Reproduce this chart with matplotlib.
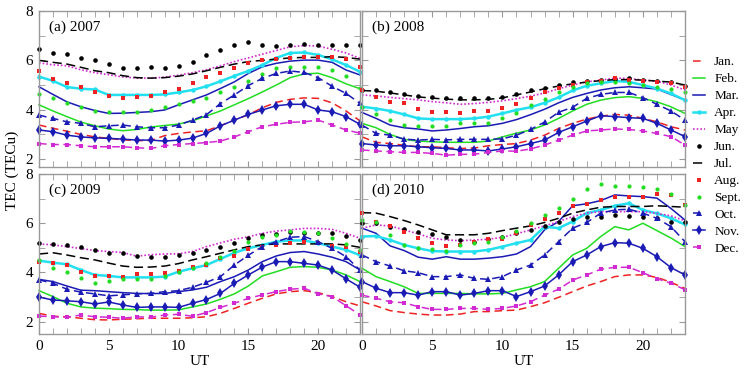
import matplotlib
matplotlib.use("Agg")
import matplotlib.pyplot as plt
from matplotlib.ticker import MultipleLocator

plt.rcParams['font.family'] = ['Liberation Serif', 'DejaVu Serif']

hours = list(range(24))
months = ['Jan.', 'Feb.', 'Mar.', 'Apr.', 'May', 'Jun.', 'Jul.', 'Aug.', 'Sept.', 'Oct.', 'Nov.', 'Dec.']
panel_titles = ['(a) 2007', '(b) 2008', '(c) 2009', '(d) 2010']

tec_2007 = {
    'Jan.': [3.38,3.25,3.13,3.0,2.9,2.84,2.78,2.75,2.75,2.95,3.04,3.1,3.15,3.35,3.58,3.8,4.08,4.3,4.42,4.48,4.46,4.28,3.95,3.55],
    'Feb.': [4.2,3.95,3.72,3.5,3.35,3.22,3.15,3.2,3.3,3.36,3.42,3.55,3.75,3.95,4.2,4.45,4.72,5.0,5.3,5.45,5.48,5.3,5.05,4.85],
    'Mar.': [4.93,4.62,4.32,4.12,3.97,3.85,3.86,3.89,3.92,3.99,4.2,4.4,4.6,4.86,5.13,5.47,5.74,5.88,5.97,6.01,6.01,5.92,5.61,5.41],
    'Apr.': [5.34,5.17,4.92,4.85,4.82,4.6,4.6,4.6,4.6,4.62,4.7,4.8,4.95,5.15,5.37,5.57,5.81,6.1,6.3,6.32,6.22,6.04,5.81,5.54],
    'May':  [5.9,5.82,5.78,5.62,5.5,5.42,5.33,5.28,5.28,5.32,5.4,5.5,5.62,5.78,5.95,6.1,6.25,6.4,6.55,6.6,6.58,6.45,6.3,6.08],
    'Jun.': [6.45,6.3,6.25,6.1,6.02,5.85,5.7,5.7,5.72,5.68,5.78,5.92,6.2,6.4,6.62,6.75,6.62,6.6,6.62,6.68,6.62,6.62,6.62,6.62],
    'Jul.': [6.0,5.92,5.85,5.72,5.58,5.5,5.38,5.3,5.28,5.3,5.36,5.45,5.58,5.72,5.85,5.95,6.0,6.05,6.1,6.12,6.12,6.15,6.12,6.05],
    'Aug.': [5.57,5.25,5.07,4.91,4.71,4.57,4.46,4.5,4.55,4.7,4.83,5.1,5.31,5.5,5.68,5.88,6.0,6.04,6.1,6.15,6.12,6.12,6.05,5.75],
    'Sept.': [4.62,4.49,4.26,4.12,3.95,3.92,3.92,3.92,4.0,4.1,4.25,4.35,4.49,4.7,4.93,5.16,5.45,5.68,5.74,5.74,5.74,5.61,5.38,4.9],
    'Oct.': [3.78,3.65,3.51,3.45,3.31,3.35,3.38,3.31,3.27,3.27,3.38,3.58,3.8,4.25,4.6,4.98,5.27,5.47,5.57,5.51,5.3,4.95,4.66,4.26],
    'Nov.': [3.18,3.11,2.97,2.9,2.86,2.84,2.81,2.77,2.77,2.73,2.77,2.85,3.04,3.35,3.58,3.81,3.99,4.16,4.22,4.22,3.99,3.92,3.72,3.41],
    'Dec.': [2.63,2.59,2.59,2.54,2.5,2.5,2.5,2.46,2.43,2.54,2.59,2.63,2.67,2.73,2.9,3.11,3.31,3.41,3.49,3.51,3.58,3.38,3.18,3.05],
}

tec_2008 = {
    'Jan.': [2.9,2.68,2.63,2.56,2.5,2.5,2.46,2.43,2.45,2.54,2.59,2.63,2.77,2.97,3.24,3.45,3.62,3.74,3.81,3.78,3.65,3.51,3.31,3.18],
    'Feb.': [3.45,3.27,3.0,2.8,2.73,2.7,2.68,2.68,2.68,2.73,2.9,3.05,3.18,3.38,3.65,3.95,4.22,4.39,4.49,4.53,4.46,4.32,4.12,3.85],
    'Mar.': [3.89,3.65,3.38,3.27,3.22,3.14,3.18,3.24,3.31,3.35,3.45,3.6,3.8,4.02,4.28,4.5,4.66,4.8,4.89,4.93,4.89,4.84,4.62,4.39],
    'Apr.': [4.12,4.05,3.95,3.81,3.65,3.62,3.62,3.62,3.65,3.72,3.85,3.99,4.1,4.28,4.5,4.78,4.97,5.07,5.16,5.13,5.0,4.86,4.66,4.39],
    'May':  [4.6,4.56,4.5,4.45,4.4,4.33,4.28,4.22,4.25,4.3,4.36,4.45,4.55,4.68,4.85,5.0,5.13,5.2,5.28,5.27,5.2,5.16,5.0,4.8],
    'Jun.': [4.8,4.8,4.7,4.62,4.57,4.5,4.46,4.46,4.46,4.48,4.53,4.62,4.8,4.89,5.0,5.11,5.16,5.2,5.24,5.27,5.2,5.16,5.13,4.95],
    'Jul.': [4.78,4.75,4.68,4.6,4.52,4.47,4.43,4.4,4.4,4.42,4.48,4.6,4.72,4.85,4.96,5.05,5.12,5.18,5.22,5.22,5.2,5.16,5.12,5.0],
    'Aug.': [4.8,4.53,4.32,4.26,4.03,3.92,3.92,3.85,3.95,3.95,4.08,4.22,4.46,4.73,4.89,5.0,5.13,5.16,5.3,5.2,5.16,5.13,5.07,4.93],
    'Sept.': [4.1,3.81,3.58,3.4,3.35,3.35,3.35,3.45,3.45,3.45,3.68,3.88,4.2,4.45,4.7,4.93,5.07,5.13,5.13,5.1,5.0,4.93,4.86,4.73],
    'Oct.': [3.38,3.04,2.97,2.81,2.77,2.8,2.78,2.8,2.8,2.8,2.82,2.97,3.2,3.5,3.9,4.1,4.46,4.62,4.7,4.7,4.49,4.22,3.95,3.58],
    'Nov.': [2.63,2.57,2.54,2.54,2.5,2.46,2.43,2.37,2.37,2.33,2.41,2.5,2.63,2.77,3.08,3.31,3.54,3.76,3.72,3.68,3.65,3.45,3.18,2.91],
    'Dec.': [2.37,2.33,2.3,2.27,2.27,2.23,2.16,2.19,2.2,2.27,2.33,2.32,2.41,2.57,2.77,2.97,3.14,3.18,3.22,3.2,3.14,3.04,2.91,2.57],
}

tec_2009 = {
    'Jan.': [2.34,2.22,2.2,2.14,2.08,2.07,2.1,2.12,2.14,2.14,2.14,2.16,2.2,2.34,2.54,2.75,2.95,3.13,3.22,3.26,3.18,3.02,2.81,2.64],
    'Feb.': [3.26,3.02,2.75,2.6,2.55,2.53,2.5,2.49,2.47,2.47,2.48,2.6,2.72,2.91,3.13,3.45,3.86,4.03,4.21,4.24,4.21,4.1,3.9,3.63],
    'Mar.': [3.72,3.63,3.45,3.28,3.26,3.22,3.18,3.15,3.14,3.15,3.22,3.29,3.4,3.63,3.83,4.1,4.44,4.67,4.81,4.85,4.75,4.62,4.44,4.1],
    'Apr.': [4.48,4.4,4.33,4.1,3.9,3.86,3.8,3.8,3.8,3.83,4.03,4.17,4.3,4.55,4.8,4.98,5.12,5.25,5.3,5.3,5.19,5.05,4.92,4.7],
    'May':  [5.16,5.12,5.05,4.97,4.89,4.85,4.81,4.66,4.72,4.75,4.76,4.85,5.05,5.2,5.35,5.45,5.59,5.68,5.73,5.79,5.79,5.75,5.59,5.39],
    'Jun.': [5.18,5.16,5.12,5.02,4.92,4.81,4.78,4.67,4.62,4.64,4.72,4.81,4.92,5.05,5.21,5.39,5.52,5.57,5.66,5.62,5.59,5.59,5.48,5.33],
    'Jul.': [4.75,4.8,4.71,4.6,4.51,4.38,4.26,4.21,4.22,4.26,4.36,4.51,4.64,4.78,4.92,5.05,5.12,5.16,5.16,5.16,5.16,5.16,5.12,5.02],
    'Aug.': [4.44,4.4,4.3,4.03,3.86,3.86,3.82,3.94,3.94,3.98,4.07,4.24,4.31,4.58,4.67,4.94,5.05,5.12,5.19,5.25,5.2,5.08,5.05,4.85],
    'Sept.': [4.51,4.17,4.0,3.76,3.56,3.67,3.72,3.72,3.72,3.86,4.0,4.17,4.4,4.64,4.89,5.25,5.43,5.53,5.7,5.66,5.59,5.39,5.16,4.92],
    'Oct.': [3.7,3.56,3.32,3.2,3.13,3.05,3.09,3.13,3.15,3.22,3.26,3.4,3.6,3.83,4.3,4.7,5.05,5.25,5.43,5.46,5.25,4.98,4.64,4.1],
    'Nov.': [3.0,2.88,2.85,2.81,2.72,2.8,2.68,2.58,2.6,2.6,2.58,2.75,2.9,3.15,3.56,3.9,4.22,4.44,4.44,4.37,4.3,4.1,3.74,3.4],
    'Dec.': [2.23,2.2,2.18,2.27,2.2,2.18,2.14,2.2,2.18,2.27,2.3,2.22,2.37,2.58,2.75,2.95,3.09,3.22,3.32,3.36,3.13,3.02,2.65,2.27],
}

tec_2010 = {
    'Jan.': [2.81,2.64,2.45,2.37,2.31,2.27,2.27,2.31,2.41,2.41,2.45,2.47,2.61,2.77,2.99,3.22,3.45,3.63,3.83,3.9,3.9,3.8,3.6,3.35],
    'Feb.': [4.17,3.83,3.63,3.42,3.15,3.15,3.15,3.15,3.13,3.13,3.15,3.29,3.42,3.63,4.17,4.71,4.98,5.46,5.86,5.73,6.0,5.7,5.4,5.05],
    'Mar.': [5.8,5.59,5.08,4.89,4.62,4.54,4.64,4.54,4.54,4.58,4.64,4.75,5.05,5.73,6.07,6.71,6.79,6.92,7.15,7.11,7.08,7.02,6.6,6.13],
    'Apr.': [5.46,5.48,5.32,5.12,4.98,4.87,4.85,4.85,4.85,4.92,5.05,5.19,5.32,5.86,5.8,6.07,6.41,6.54,6.71,6.81,6.54,6.4,6.2,5.95],
    'May':  [5.8,5.93,5.89,5.73,5.57,5.39,5.32,5.29,5.32,5.35,5.43,5.57,5.73,5.89,6.07,6.27,6.41,6.47,6.47,6.47,6.47,6.4,6.3,6.1],
    'Jun.': [6.0,6.0,5.86,5.76,5.66,5.57,5.43,5.32,5.25,5.35,5.46,5.59,5.73,5.89,6.03,6.16,6.24,6.24,6.34,6.3,6.24,6.2,6.07,6.05],
    'Jul.': [6.43,6.41,6.27,6.11,5.93,5.73,5.53,5.53,5.53,5.59,5.7,5.8,5.89,6.03,6.2,6.41,6.54,6.65,6.68,6.68,6.68,6.71,6.68,6.65],
    'Aug.': [6.41,6.07,5.89,5.66,5.39,5.21,5.08,5.12,5.25,5.35,5.35,5.59,5.93,6.16,6.41,6.71,6.79,6.95,7.08,7.06,7.06,7.2,7.15,6.75],
    'Sept.': [6.14,6.03,5.53,5.12,4.98,4.94,4.89,5.12,5.19,5.25,5.46,5.7,6.0,6.34,6.61,6.98,7.38,7.6,7.52,7.52,7.46,7.4,7.2,6.75],
    'Oct.': [4.71,4.44,4.26,4.07,3.99,3.83,3.83,3.9,3.76,3.72,3.83,4.1,4.3,4.71,5.25,5.8,6.03,6.41,6.54,6.57,6.41,6.2,5.86,5.25],
    'Nov.': [3.63,3.36,3.18,3.18,3.08,3.22,3.22,3.08,3.15,3.26,3.26,3.02,3.22,3.45,3.9,4.44,4.71,5.05,5.21,5.19,4.98,4.64,4.2,3.9],
    'Dec.': [3.08,2.95,2.81,2.77,2.61,2.5,2.5,2.54,2.54,2.5,2.54,2.64,2.81,3.08,3.32,3.69,3.9,4.13,4.21,4.21,3.99,3.75,3.56,3.3],
}

RED = '#ee2222'
GREEN = '#22dd22'
BLUE = '#1a1ab4'
CYAN = '#22e0f0'
MAG = '#d22ad2'

styles = {
    'Jan.': dict(color=RED, ls=(0, (5, 3)), lw=1.1),
    'Feb.': dict(color=GREEN, ls='-', lw=1.1),
    'Mar.': dict(color=BLUE, ls='-', lw=1.1),
    'Apr.': dict(color=CYAN, ls='-', lw=1.8, marker='o', ms=3.2, mew=0),
    'May': dict(color=MAG, ls=(0, (1, 1.2)), lw=1.2),
    'Jun.': dict(color='black', ls='none', marker='o', ms=3.3, mew=0),
    'Jul.': dict(color='black', ls=(0, (6, 3)), lw=1.1),
    'Aug.': dict(color=RED, ls='none', marker='s', ms=2.9, mew=0),
    'Sept.': dict(color=GREEN, ls='none', marker='o', ms=3.0, mew=0),
    'Oct.': dict(color=BLUE, ls=(0, (5, 3)), lw=1.1, marker='^', ms=4.6, mew=0),
    'Nov.': dict(color=BLUE, ls='-', lw=1.1, marker='d', ms=4.8, mew=0),
    'Dec.': dict(color=MAG, ls=(0, (5, 3)), lw=1.1, marker='s', ms=2.8, mew=0),
}

W, H = 746, 374
fig = plt.figure(figsize=(W / 100, H / 100), dpi=100)

def rect(x0, y0, x1, y1):
    return [x0 / W, 1 - y1 / H, (x1 - x0) / W, (y1 - y0) / H]

rects = [rect(39, 11, 360, 167), rect(362, 11, 685, 167),
         rect(39, 174, 360, 334), rect(362, 174, 685, 334)]
ylims = [(1.68, 8), (1.68, 8), (1.5, 8), (1.5, 8)]
datasets = [tec_2007, tec_2008, tec_2009, tec_2010]
GRAY = '#999999'

handles = []
for i, (r, data, title, yl) in enumerate(zip(rects, datasets, panel_titles, ylims)):
    ax = fig.add_axes(r)
    for m in months:
        ln, = ax.plot(hours, data[m], label=m, clip_on=False, **styles[m])
        if i == 0:
            handles.append(ln)
    ax.set_xlim(0, 23)
    ax.set_ylim(*yl)
    ax.xaxis.set_major_locator(MultipleLocator(5))
    ax.xaxis.set_minor_locator(MultipleLocator(1))
    ax.yaxis.set_major_locator(MultipleLocator(2))
    ax.yaxis.set_minor_locator(MultipleLocator(1))
    ax.tick_params(which='both', direction='in', top=True, right=True,
                   color=GRAY, labelsize=11, pad=4)
    ax.tick_params(which='major', length=4)
    ax.tick_params(which='minor', length=4)
    for s in ax.spines.values():
        s.set_color(GRAY)
        s.set_linewidth(1.0)
    if i in (0, 1):
        ax.tick_params(labelbottom=False)
    if i in (1, 3):
        ax.tick_params(labelleft=False)
    ax.text(0.03, 0.94, title, transform=ax.transAxes, ha='left', va='top', fontsize=11)
    if i in (2, 3):
        ax.set_xlabel('UT', fontsize=11, labelpad=2)

fig.text(12 / W, 1 - 170 / H, 'TEC (TECu)', rotation=90, ha='center', va='center', fontsize=11)

fig.legend(handles=handles, labels=months, loc='upper left',
           bbox_to_anchor=(693 / W, 1 - 56 / H), frameon=False,
           fontsize=9.5, handlelength=0.9, handletextpad=0.7,
           labelspacing=0.36, borderaxespad=0, borderpad=0)

fig.savefig('out.png', dpi=100)
